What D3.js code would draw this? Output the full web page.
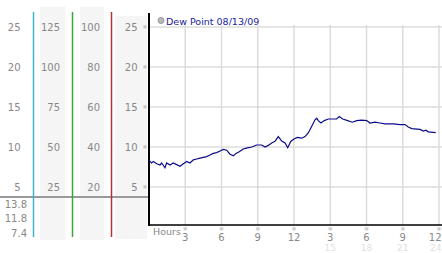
<!DOCTYPE html>
<html>
<head>
<meta charset="utf-8">
<script src="https://cdn.jsdelivr.net/npm/d3@7"></script>
<style>
  body { margin: 0; background: #fff; }
  svg { display: block; font-family: "DejaVu Sans", sans-serif; }
</style>
</head>
<body>
<svg width="442" height="253"></svg>
<script>
// dew point readings (hour of day, value)
const hours = [0, 0.08, 0.22, 0.36, 0.64, 0.91, 1.05, 1.32, 1.46, 1.74, 2.01, 2.29, 2.57, 2.84,
  3.12, 3.39, 3.67, 3.95, 4.22, 4.49, 4.78, 5.05, 5.32, 5.6, 5.88, 6.15, 6.43, 6.7, 6.98,
  7.2, 7.47, 7.8, 8.14, 8.5, 8.91, 9.33, 9.6, 9.87, 10.15, 10.43, 10.7, 10.98, 11.26, 11.48,
  11.73, 12.0, 12.27, 12.64, 12.91, 13.18, 13.47, 13.74, 13.88, 14.01, 14.23, 14.51, 14.84,
  15.25, 15.53, 15.75, 16.03, 16.44, 16.82, 17.19, 17.6, 18.02, 18.29, 18.7, 19.12, 19.53,
  20.22, 20.77, 21.19, 21.46, 21.74, 22.43, 22.7, 22.92, 23.11, 23.73];
const dewPoint = [8.4, 8.2, 8.0, 8.2, 7.9, 7.75, 8.0, 7.4, 8.0, 7.75, 8.0, 7.8, 7.6, 7.9,
  8.2, 8.0, 8.4, 8.5, 8.6, 8.7, 8.8, 9.0, 9.2, 9.3, 9.5, 9.7, 9.6, 9.1, 8.9,
  9.2, 9.4, 9.75, 9.9, 10.0, 10.25, 10.25, 10.0, 10.2, 10.5, 10.7, 11.3, 10.75, 10.5, 9.9,
  10.7, 11.0, 11.2, 11.1, 11.3, 11.75, 12.6, 13.4, 13.6, 13.3, 13.0, 13.3, 13.5,
  13.5, 13.5, 13.8, 13.5, 13.3, 13.1, 13.3, 13.35, 13.3, 13.0, 13.1, 13.0, 12.9,
  12.9, 12.8, 12.8, 12.5, 12.3, 12.2, 12.0, 12.1, 11.9, 11.8];

const legendTitle = "Dew Point 08/13/09";
const xTicks = [3, 6, 9, 12, 15, 18, 21, 24];
const xTickLabels = ["3", "6", "9", "12", "3", "6", "9", "12"];
const xTickLabels2 = ["", "", "", "", "15", "18", "21", "24"];
const yTicks = [25, 20, 15, 10, 5];
const colA = ["25", "20", "15", "10", "5"];
const colB = ["125", "100", "75", "50", "25"];
const colC = ["100", "80", "60", "40", "20"];
const colD = ["25", "20", "15", "10", "5"];
const stats = ["13.8", "11.8", "7.4"];

const svg = d3.select("svg");
const x = d3.scaleLinear().domain([0, 24]).range([149, 439]);
const y = d3.scaleLinear().domain([0.25, 26.75]).range([225, 13]);

// left panel column backgrounds
const bgs = [[40, 6.5, 25.5, 233.5], [80, 6.5, 24, 233.5], [115, 16, 32, 223]];
svg.append("g").selectAll("rect").data(bgs).enter().append("rect")
  .attr("x", d => d[0]).attr("y", d => d[1]).attr("width", d => d[2]).attr("height", d => d[3])
  .attr("fill", "#f5f5f5");

// grid
svg.append("g").selectAll("line").data(yTicks).enter().append("line")
  .attr("x1", 149).attr("x2", 442)
  .attr("y1", d => y(d)).attr("y2", d => y(d))
  .attr("stroke", "#dcdcdc").attr("stroke-width", 1.5);
svg.append("g").selectAll("line").data(xTicks).enter().append("line")
  .attr("x1", d => x(d)).attr("x2", d => x(d))
  .attr("y1", y(25) - 2).attr("y2", 225)
  .attr("stroke", "#dcdcdc").attr("stroke-width", 1.5);

// column labels
const cols = [[colA, 20.5], [colB, 60], [colC, 100], [colD, 137.5]];
cols.forEach(([labels, cx]) => {
  svg.append("g").selectAll("text").data(labels).enter().append("text")
    .attr("x", cx).attr("y", (d, i) => y(yTicks[i]) + 3.5)
    .attr("text-anchor", "end").attr("font-size", "10px").attr("fill", "#888")
    .text(d => d);
});
svg.append("g").selectAll("text").data(yTicks).enter().append("text")
  .attr("x", 145).attr("y", d => y(d) + 2)
  .attr("text-anchor", "middle").attr("font-size", "6px").attr("fill", "#aaa")
  .text("※");

// separator and stats
svg.append("line").attr("x1", 0).attr("x2", 149).attr("y1", 197).attr("y2", 197)
  .attr("stroke", "#999").attr("stroke-width", 2);
svg.append("g").selectAll("text").data(stats).enter().append("text")
  .attr("x", 27).attr("y", (d, i) => 208 + i * 14.3)
  .attr("text-anchor", "end").attr("font-size", "10px").attr("fill", "#888")
  .text(d => d);

// coloured column dividers
const dividers = [[33.5, "#3fb3cc"], [72.5, "#3aa63a"], [111.5, "#b03333"]];
svg.append("g").selectAll("line").data(dividers).enter().append("line")
  .attr("x1", d => d[0]).attr("x2", d => d[0]).attr("y1", 12).attr("y2", 237)
  .attr("stroke", d => d[1]).attr("stroke-width", 1.5);

// axes
svg.append("line").attr("x1", 149).attr("x2", 149).attr("y1", 13).attr("y2", 226)
  .attr("stroke", "#000").attr("stroke-width", 2);
svg.append("line").attr("x1", 148).attr("x2", 442).attr("y1", 225).attr("y2", 225)
  .attr("stroke", "#000").attr("stroke-width", 1.5);

svg.append("text").attr("x", 153).attr("y", 235)
  .attr("font-size", "9.5px").attr("fill", "#888").text("Hours");
const last = xTicks.length - 1;
const xt = svg.append("g").selectAll("g").data(xTicks).enter().append("g")
  .attr("transform", d => `translate(${x(d)},0)`);
xt.append("text").attr("y", 231).attr("text-anchor", "middle")
  .attr("font-size", "6px").attr("fill", "#aaa").text("※");
xt.append("text").attr("y", 240.5)
  .attr("x", (d, i) => i === last ? 2.5 : 0)
  .attr("text-anchor", (d, i) => i === last ? "end" : "middle")
  .attr("font-size", "10px").attr("fill", "#888").text((d, i) => xTickLabels[i]);
xt.append("text").attr("y", 251)
  .attr("x", (d, i) => i === last ? 2.5 : 0)
  .attr("text-anchor", (d, i) => i === last ? "end" : "middle")
  .attr("font-size", "9px").attr("fill", "#e0e0e0").text((d, i) => xTickLabels2[i]);

// series
const line = d3.line().x(d => x(d[0])).y(d => y(d[1]));
svg.append("path").datum(d3.zip(hours, dewPoint))
  .attr("d", line).attr("fill", "none")
  .attr("stroke", "#0c0c8a").attr("stroke-width", 1.2);

// legend
svg.append("circle").attr("cx", 161).attr("cy", 20.5).attr("r", 3)
  .attr("fill", "#bbb").attr("stroke", "#888").attr("stroke-width", 0.8);
svg.append("text").attr("x", 166).attr("y", 24.5)
  .attr("font-size", "9.5px").attr("fill", "#1c1ca0").text(legendTitle);
</script>
</body>
</html>
